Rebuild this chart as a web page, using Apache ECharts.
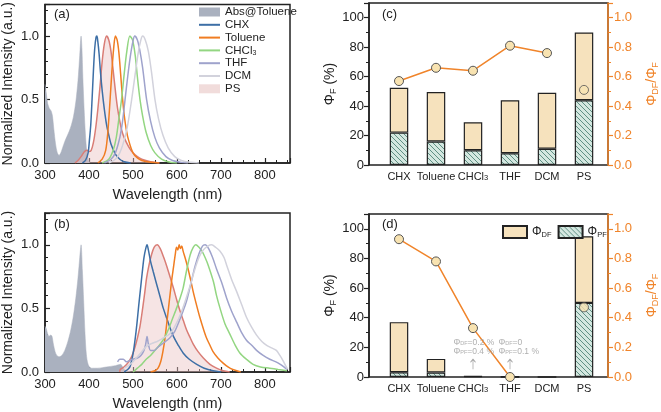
<!DOCTYPE html>
<html><head><meta charset="utf-8">
<script src="https://cdn.jsdelivr.net/npm/echarts@6/dist/echarts.min.js"></script>
<style>html,body{margin:0;padding:0;background:#fff}#c{width:661px;height:412px}</style>
</head><body><div id="c"></div>
<script>
// ---------- DATA ----------
const absA = [[300,0.62],[303,0.55],[306,0.47],[310,0.43],[314,0.41],[317,0.37],[320,0.27],[324,0.15],[328,0.08],[332,0.06],[336,0.08],[340,0.12],[345,0.17],[350,0.21],[355,0.25],[360,0.3],[365,0.37],[370,0.48],[375,0.65],[379,0.85],[382,1.0],[384,0.9],[386,0.68],[389,0.42],[392,0.22],[395,0.09],[398,0.03],[402,0]];
const chxA = [[385,0],[392,0.02],[398,0.08],[401,0.18],[404,0.3],[407,0.5],[410,0.72],[413,0.9],[416,0.99],[418,1.0],[420,0.96],[423,0.86],[426,0.72],[430,0.57],[435,0.42],[440,0.3],[445,0.22],[450,0.15],[460,0.07],[470,0.03],[480,0.01],[495,0]];
const psA = [[368,0],[375,0.02],[382,0.05],[390,0.09],[396,0.1],[400,0.09],[405,0.1],[410,0.16],[415,0.27],[420,0.42],[425,0.6],[430,0.8],[435,0.94],[440,1.0],[445,0.97],[450,0.88],[455,0.73],[460,0.57],[465,0.43],[470,0.33],[475,0.25],[480,0.2],[490,0.13],[500,0.08],[510,0.05],[520,0.03],[540,0.01],[560,0]];
const tolA = [[420,0],[430,0.03],[438,0.1],[443,0.25],[448,0.5],[452,0.72],[456,0.9],[460,1.0],[464,0.97],[468,0.87],[472,0.7],[476,0.52],[480,0.38],[485,0.26],[490,0.18],[500,0.08],[510,0.04],[520,0.02],[540,0.005],[560,0]];
const chcl3A = [[430,0],[445,0.03],[455,0.1],[462,0.2],[468,0.35],[474,0.5],[480,0.7],[486,0.88],[493,1.0],[499,0.97],[505,0.85],[510,0.68],[516,0.5],[522,0.37],[530,0.24],[540,0.14],[550,0.08],[565,0.03],[580,0.01],[600,0]];
const thfA = [[435,0],[450,0.03],[460,0.08],[470,0.2],[476,0.32],[482,0.5],[488,0.68],[494,0.84],[500,0.96],[504,1.0],[510,0.97],[516,0.88],[522,0.75],[531,0.5],[540,0.33],[550,0.2],[560,0.12],[575,0.05],[590,0.02],[610,0.005],[625,0]];
const dcmA = [[445,0],[460,0.03],[470,0.08],[480,0.18],[488,0.3],[497,0.5],[505,0.7],[512,0.87],[518,0.97],[522,1.0],[528,0.97],[535,0.88],[542,0.72],[550,0.5],[558,0.35],[568,0.22],[580,0.12],[595,0.05],[610,0.02],[630,0.005],[650,0]];

const absB = [[300,0.36],[303,0.34],[306,0.3],[309,0.28],[313,0.29],[316,0.28],[319,0.22],[323,0.16],[327,0.13],[332,0.12],[338,0.13],[345,0.17],[352,0.24],[358,0.32],[364,0.43],[370,0.58],[375,0.74],[379,0.9],[382,1.0],[385,0.8],[388,0.55],[391,0.3],[394,0.14],[398,0.06],[405,0.03],[420,0.03],[440,0.04],[460,0.05],[472,0.06],[478,0.03],[485,0.01],[495,0]];
const chxB = [[480,0],[488,0.02],[493,0.04],[497,0.09],[501,0.16],[505,0.26],[509,0.38],[513,0.52],[517,0.65],[521,0.78],[525,0.9],[529,0.97],[532,1.0],[535,0.96],[540,0.87],[546,0.79],[553,0.7],[561,0.6],[569,0.5],[577,0.42],[585,0.34],[592,0.28],[603,0.21],[614,0.15],[628,0.1],[645,0.06],[662,0.03],[682,0.01],[700,0]];
const psB = [[470,0],[471,0.02],[480,0.04],[490,0.08],[498,0.13],[505,0.2],[511,0.28],[516,0.36],[522,0.5],[527,0.63],[531,0.74],[537,0.85],[542,0.92],[548,0.98],[555,1.0],[562,0.97],[570,0.9],[577,0.83],[585,0.74],[592,0.66],[600,0.56],[607,0.48],[615,0.4],[622,0.33],[630,0.27],[637,0.22],[648,0.16],[660,0.11],[675,0.06],[690,0.03],[705,0.01],[720,0]];
const tolB = [[540,0],[550,0.01],[557,0.03],[563,0.08],[568,0.16],[573,0.27],[578,0.42],[584,0.6],[588,0.72],[592,0.82],[596,0.92],[599,0.98],[602,0.96],[605,1.0],[608,0.97],[611,0.99],[614,0.95],[620,0.88],[626,0.8],[632,0.71],[637,0.63],[645,0.52],[652,0.43],[660,0.34],[667,0.27],[675,0.21],[682,0.16],[693,0.11],[705,0.07],[716,0.04],[727,0.02],[745,0]];
const chcl3B = [[500,0],[510,0.03],[520,0.06],[530,0.1],[540,0.13],[550,0.17],[560,0.21],[570,0.26],[580,0.33],[590,0.42],[600,0.51],[607,0.58],[614,0.66],[622,0.8],[630,0.92],[637,0.98],[643,1.0],[650,0.98],[657,0.95],[664,0.9],[671,0.84],[683,0.71],[690,0.6],[698,0.5],[709,0.38],[720,0.3],[731,0.22],[743,0.15],[758,0.1],[773,0.06],[790,0.04],[811,0.03],[830,0.02],[850,0.01]];
const thfB = [[465,0.08],[470,0.1],[478,0.1],[485,0.08],[492,0.09],[500,0.1],[510,0.11],[518,0.13],[525,0.17],[529,0.22],[532,0.28],[535,0.22],[540,0.17],[548,0.17],[558,0.2],[570,0.23],[584,0.27],[595,0.32],[605,0.4],[614,0.48],[622,0.56],[632,0.7],[641,0.83],[650,0.93],[658,0.99],[664,1.0],[672,0.97],[681,0.9],[690,0.81],[702,0.7],[713,0.58],[724,0.48],[736,0.39],[747,0.31],[758,0.25],[770,0.21],[781,0.17],[796,0.13],[811,0.1],[825,0.08],[835,0.06],[843,0.04],[850,0.02]];
const dcmB = [[480,0.03],[490,0.05],[500,0.08],[510,0.12],[520,0.16],[530,0.2],[540,0.22],[555,0.24],[570,0.27],[584,0.3],[597,0.37],[610,0.47],[620,0.57],[630,0.68],[640,0.8],[650,0.9],[660,0.96],[670,0.99],[679,1.0],[688,0.98],[698,0.95],[707,0.9],[713,0.84],[724,0.73],[736,0.63],[747,0.53],[758,0.43],[770,0.35],[781,0.29],[793,0.24],[804,0.21],[815,0.19],[826,0.17],[834,0.13],[841,0.09],[847,0.05],[852,0.02]];

const categories = ['CHX','Toluene','CHCl3','THF','DCM','PS'];
const pfC = [22, 16, 10, 8, 11, 44];
const dfC = [30.5, 33.5, 19, 36, 38, 46];
const ratioC = [0.57, 0.66, 0.64, 0.81, 0.76];
const psRatioC = 0.51;
const pfD = [3.2, 3, 0.4, 0.1, 0, 50];
const dfD = [33.8, 9.2, 0.2, 0, 0, 45];
const ratioD = [0.93, 0.78, 0.33, 0];
const psRatioD = 0.47;
const wlTicks = [300, 400, 500, 600, 700, 800];
const noteCHCl3 = ['0.2 %', '0.4 %'];   // ΦDF, ΦPF in CHCl3 (d)
const noteTHF = ['0', '0.1 %'];        // ΦDF, ΦPF in THF (d)

// ---------- STYLE ----------
const FONT = "'Liberation Sans', Arial, sans-serif";
const INK = '#222';
const OR = '#f0842a';
const col = {abs:'#aab1bf', CHX:'#3d6fa6', Toluene:'#f07d22', CHCl3:'#93d682', THF:'#9fa3cc', DCM:'#d2d2dc', PS:'#d97d76', psFill:'rgba(236,196,196,0.45)'};

function hatch(){
  const c = document.createElement('canvas'); c.width = 5; c.height = 5;
  const g = c.getContext('2d');
  g.fillStyle = '#d4e7e0'; g.fillRect(0,0,5,5);
  g.strokeStyle = '#5f8f83'; g.lineWidth = 1;
  g.beginPath();
  g.moveTo(-1,-1); g.lineTo(6,6);
  g.moveTo(-1,4); g.lineTo(1,6);
  g.moveTo(4,-1); g.lineTo(6,1);
  g.stroke();
  return c;
}
const hatchFill = {image: hatch(), repeat: 'repeat'};
const beige = '#f6e2bd';

const subRich = {
  p:{fontFamily:FONT, fontSize:14, lineHeight:16, color:INK},
  s:{fontFamily:FONT, fontSize:9, lineHeight:8, verticalAlign:'bottom', color:INK, padding:[6,0,0,0]}
};
function richColor(r, c){ const o={}; for(const k in r){o[k]=Object.assign({}, r[k], {color:c});} return o; }
const catFmt = v => v === 'CHCl3' ? 'CHCl{s|3}' : v;

function specXAxis(gi){
  return {gridIndex:gi, type:'value', min:300, max:857, interval:100,
    axisLine:{lineStyle:{color:INK, width:1.5}},
    axisTick:{inside:true, length:5, lineStyle:{color:INK, width:1.2}},
    minorTick:{show:true, splitNumber:4, length:3, lineStyle:{color:INK, width:1}},
    splitLine:{show:false},
    axisLabel:{fontFamily:FONT, fontSize:13, color:INK, margin:6, formatter:v => wlTicks.includes(v) ? String(v) : ''},
    name:'Wavelength (nm)', nameLocation:'middle', nameGap:24,
    nameTextStyle:{fontFamily:FONT, fontSize:14.5, color:INK}};
}
function specYAxis(gi){
  return {gridIndex:gi, type:'value', min:0, max:1.25, interval:0.5,
    axisLine:{lineStyle:{color:INK, width:1.5}},
    axisTick:{inside:true, length:5, lineStyle:{color:INK, width:1.2}},
    minorTick:{show:true, splitNumber:5, length:3, lineStyle:{color:INK, width:1}},
    splitLine:{show:false},
    axisLabel:{fontFamily:FONT, fontSize:13, color:INK, margin:6, formatter:v => (Math.abs(v*2-Math.round(v*2))<1e-6) ? v.toFixed(1) : ''},
    name:'Normalized Intensity (a.u.)', nameLocation:'middle', nameGap:30,
    nameTextStyle:{fontFamily:FONT, fontSize:14, color:INK}};
}
function phiLeftAxis(gi){
  return {gridIndex:gi, type:'value', min:0, max:110, interval:20, position:'left',
    axisLine:{show:true, lineStyle:{color:INK, width:1.5}},
    axisTick:{show:true, inside:false, length:5, lineStyle:{color:INK, width:1.2}},
    minorTick:{show:true, splitNumber:2, length:3, lineStyle:{color:INK, width:1}},
    splitLine:{show:false},
    axisLabel:{fontFamily:FONT, fontSize:13, color:INK, margin:5, formatter:v => v % 20 === 0 ? String(v) : ''},
    name:'{p|Φ}{s|F}{p| (%)}', nameLocation:'middle', nameGap:26,
    nameTextStyle:{rich: subRich}};
}
function ratioRightAxis(gi){
  return {gridIndex:gi, type:'value', min:0, max:1.1, interval:0.2, position:'right', z:10,
    axisLine:{show:true, lineStyle:{color:OR, width:1.5}},
    axisTick:{show:true, inside:false, length:5, lineStyle:{color:OR, width:1.2}},
    minorTick:{show:true, splitNumber:2, length:3, lineStyle:{color:OR, width:1}},
    splitLine:{show:false},
    axisLabel:{fontFamily:FONT, fontSize:13, color:OR, margin:6, formatter:v => (Math.abs(v*5-Math.round(v*5))<1e-6) ? v.toFixed(1) : ''},
    name:'{p|Φ}{s|DF}{p|/Φ}{s|F}', nameLocation:'middle', nameGap:36, nameRotate:90,
    nameTextStyle:{rich: richColor(subRich, OR)}};
}
function hiddenY(gi, max){ return {gridIndex:gi, type:'value', min:0, max:max, show:false}; }
function catAxis(gi){
  return {gridIndex:gi, type:'category', data:categories,
    axisLine:{show:false}, axisTick:{show:false}, splitLine:{show:false},
    axisLabel:{interval:0, fontFamily:FONT, fontSize:11, color:INK, margin:6, formatter:catFmt,
      rich:{s:{fontFamily:FONT, fontSize:7.5, verticalAlign:'bottom', lineHeight:7, padding:[5,0,0,0], color:INK}}}};
}

const frameBorder = {show:true, borderColor:INK, borderWidth:1.5, backgroundColor:'transparent'};
const grids = [
  Object.assign({left:45, right:371, top:2, bottom:249}, frameBorder),
  Object.assign({left:45, right:371, top:213, bottom:35}, frameBorder),
  Object.assign({left:369, right:53, top:3, bottom:247}, frameBorder),
  {left:380.5, right:58.5, top:3, bottom:247},
  Object.assign({left:369, right:53, top:214, bottom:35}, frameBorder),
  {left:380.5, right:58.5, top:214, bottom:35}
];

function specLine(name, data, gi){
  return {type:'line', name:name, data:data, xAxisIndex:gi, yAxisIndex:gi, smooth:0.3,
    symbol:'none', showSymbol:false, lineStyle:{color:col[name], width:1.5}, itemStyle:{color:col[name]}, z:3};
}
function absSeries(data, gi){
  return {type:'line', name:'Abs@Toluene', data:data, xAxisIndex:gi, yAxisIndex:gi, smooth:0.3,
    symbol:'none', lineStyle:{width:0.5, color:col.abs}, itemStyle:{color:col.abs},
    areaStyle:{color:col.abs, opacity:1}, z:1};
}
function psSeries(data, gi){
  return {type:'line', name:'PS', data:data, xAxisIndex:gi, yAxisIndex:gi, smooth:0.3,
    symbol:'none', lineStyle:{width:1.5, color:col.PS}, itemStyle:{color:col.PS},
    areaStyle:{color:col.psFill, opacity:1}, z:2};
}
const dot = {color:'#f8e3b1', borderColor:'#555', borderWidth:1};
function barSeries(name, data, xi, yi, fill){
  return {type:'bar', name:name, data:data, xAxisIndex:xi, yAxisIndex:yi, stack:'s'+xi, barWidth:'50%',
    itemStyle:{color:fill, borderColor:INK, borderWidth:1.2}, z:2};
}
function ratioLine(data, xi, yi){
  return {type:'line', data:data, xAxisIndex:xi, yAxisIndex:yi, symbol:'circle', symbolSize:9, clip:false,
    lineStyle:{color:OR, width:1.5}, itemStyle:dot, z:5};
}
function psDot(val, xi, yi){
  return {type:'scatter', data:[['PS', val]], xAxisIndex:xi, yAxisIndex:yi, symbol:'circle', symbolSize:9,
    itemStyle:dot, z:5};
}

const annRich = {
  p:{fontFamily:FONT, fontSize:8.5, lineHeight:9, color:'#9a9a9a'},
  s:{fontFamily:FONT, fontSize:5.5, lineHeight:6, verticalAlign:'bottom', color:'#9a9a9a', padding:[3,0,0,0]}
};
function noteSeries(cat, vals, dx){
  return {type:'scatter', xAxisIndex:5, yAxisIndex:8, symbolSize:1, silent:true, z:6,
    itemStyle:{color:'transparent'},
    data:[[cat, 20.4]],
    label:{show:true, position:'right', distance:0, offset:[dx, 0], align:'left', verticalAlign:'middle', rich:annRich,
      formatter:'{p|Φ}{s|DF}{p|=' + vals[0] + '}\n{p|Φ}{s|PF}{p|=' + vals[1] + '}'}};
}

const option = {
  animation:false,
  textStyle:{fontFamily:FONT},
  grid: grids,
  xAxis:[specXAxis(0), specXAxis(1),
    {gridIndex:2, type:'value', show:false}, catAxis(3),
    {gridIndex:4, type:'value', show:false}, catAxis(5)],
  yAxis:[specYAxis(0), specYAxis(1),
    phiLeftAxis(2), ratioRightAxis(2), hiddenY(3,110), hiddenY(3,1.1),
    phiLeftAxis(4), ratioRightAxis(4), hiddenY(5,110), hiddenY(5,1.1)],
  legend:[
    {orient:'vertical', left:193, top:1, itemWidth:21, itemHeight:9, itemGap:0.8,
      itemStyle:{color:'transparent', borderWidth:0, opacity:0},
      textStyle:{fontFamily:FONT, fontSize:11.5, lineHeight:12, color:INK, rich:{s:{fontSize:7, verticalAlign:'bottom', lineHeight:6, padding:[4,0,0,0], color:INK}}},
      formatter: n => n === 'CHCl3' ? 'CHCl{s|3}' : n,
      selectedMode:false,
      data:[
        {name:'Abs@Toluene', icon:'rect', itemStyle:{color:col.abs, opacity:1}},
        {name:'CHX'},{name:'Toluene'},{name:'CHCl3'},{name:'THF'},{name:'DCM'},
        {name:'PS', icon:'rect', itemStyle:{color:'#f1dcdb', opacity:1}}
      ]},
    {orient:'horizontal', left:497, top:220, itemWidth:24, itemHeight:12, itemGap:6, selectedMode:false,
      textStyle:{rich:{p:{fontFamily:FONT, fontSize:12, lineHeight:14, color:INK}, s:{fontFamily:FONT, fontSize:7.5, lineHeight:7, verticalAlign:'bottom', padding:[5,0,0,0], color:INK}}},
      formatter: n => n === 'DF' ? '{p|Φ}{s|DF}' : '{p|Φ}{s|PF}',
      data:[{name:'DF', icon:'rect'},{name:'PF', icon:'rect'}]}
  ],
  graphic:[
    {type:'text', left:54, top:8, style:{text:'(a)', font:'13px '+FONT, fill:INK}},
    {type:'text', left:54, top:218, style:{text:'(b)', font:'13px '+FONT, fill:INK}},
    {type:'text', left:382, top:8, style:{text:'(c)', font:'13px '+FONT, fill:INK}},
    {type:'text', left:382, top:218, style:{text:'(d)', font:'13px '+FONT, fill:INK}}
  ],
  series:[
    absSeries(absA,0), psSeries(psA,0),
    specLine('CHX',chxA,0), specLine('Toluene',tolA,0), specLine('CHCl3',chcl3A,0), specLine('THF',thfA,0), specLine('DCM',dcmA,0),
    absSeries(absB,1), psSeries(psB,1),
    specLine('CHX',chxB,1), specLine('Toluene',tolB,1), specLine('CHCl3',chcl3B,1), specLine('THF',thfB,1), specLine('DCM',dcmB,1),
    barSeries('PF', pfC, 3, 4, hatchFill), barSeries('DF', dfC, 3, 4, beige),
    ratioLine(ratioC, 3, 5), psDot(psRatioC, 3, 5),
    barSeries('PF', pfD, 5, 8, hatchFill), barSeries('DF', dfD, 5, 8, beige),
    ratioLine(ratioD, 5, 9), psDot(psRatioD, 5, 9),
    noteSeries('CHCl3', noteCHCl3, -20),
    noteSeries('THF', noteTHF, -12),
    {type:'scatter', xAxisIndex:5, yAxisIndex:8, silent:true, z:6,
      symbol:'path://M3,0 L3,10 M0,3 L3,0 L6,3', symbolSize:[5,10],
      itemStyle:{color:'none', borderColor:'#888', borderWidth:1},
      data:[['CHCl3', 8.6], ['THF', 8.6]]}
  ]
};
const chart = echarts.init(document.getElementById('c'), null, {renderer:'canvas'});
chart.setOption(option);
</script>
</body></html>
